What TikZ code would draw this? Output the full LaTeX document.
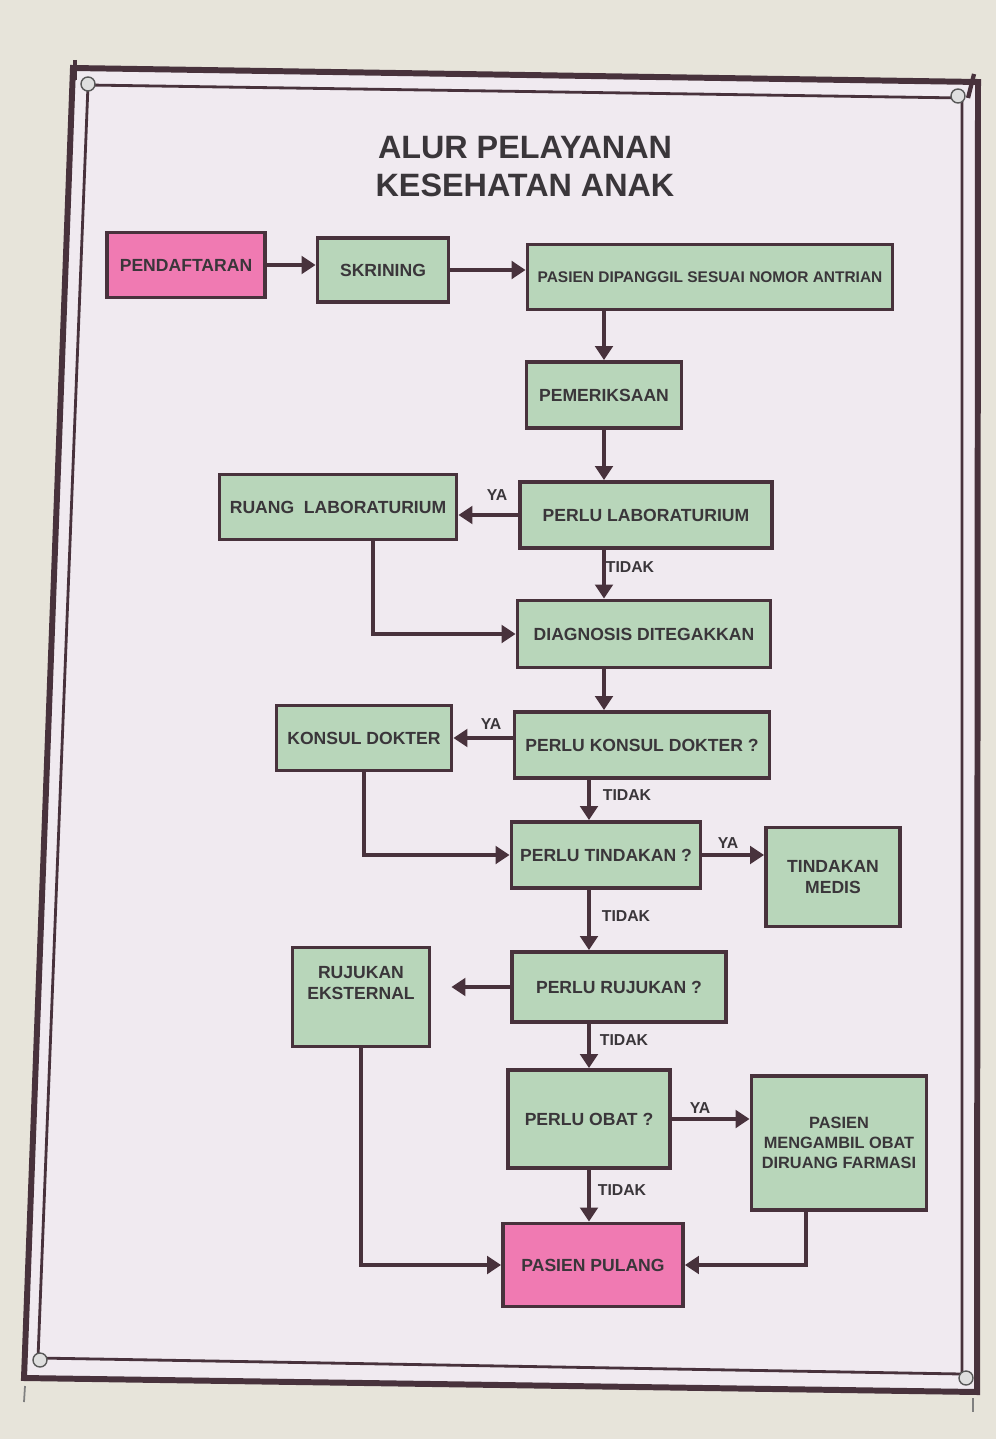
\documentclass[tikz,border=0pt]{standalone}
\usepackage{fontspec}
\setmainfont{Liberation Sans}
\usetikzlibrary{arrows.meta, positioning, calc}
\definecolor{alur_frame}{RGB}{72, 50, 60}
\definecolor{alur_green}{RGB}{184, 214, 186}
\definecolor{alur_pink}{RGB}{240, 122, 178}
\definecolor{alur_text}{RGB}{58, 54, 58}
\definecolor{alur_wall}{RGB}{231, 228, 218}
\definecolor{alur_cloth}{RGB}{240, 234, 240}

\begin{document}
\begin{tikzpicture}[x=0.02cm, y=-0.02cm,
    box/.style={draw=alur_frame, line width=2.2pt, fill=alur_green, text=alur_text,
                align=center, inner sep=2pt, font=\fontsize{10}{12}\selectfont\bfseries},
    pinkbox/.style={box, fill=alur_pink},
    arr/.style={draw=alur_frame, line width=2.2pt, -{Triangle[length=8pt, width=10pt]}},
    lbl/.style={text=alur_text, font=\fontsize{9}{10}\selectfont\bfseries},
    grommet/.style={draw=gray!70!black, fill=gray!25, line width=0.8pt}]
  % wall and banner
  \fill[alur_wall] (0,0) rectangle (996,1439);
  \fill[alur_cloth] (73,68) -- (978,82) -- (977,1392) -- (24,1378) -- cycle;
  \draw[alur_frame, line width=3.4pt, line join=miter] (73,68) -- (978,82) -- (977,1392) -- (24,1378) -- cycle;
  \draw[alur_frame, line width=1.6pt] (88,85) -- (962,98) -- (962,1374) -- (38,1358) -- cycle;
  \draw[alur_frame, line width=2pt] (75,60) -- (75,80);
  \draw[alur_frame, line width=2.4pt] (974,74) -- (968,98);
  \draw[gray, line width=1pt] (25,1386) -- (24,1402);
  \draw[gray, line width=1pt] (973,1398) -- (973,1412);
  \foreach \gx/\gy in {88/84, 958/96, 40/1360, 966/1378}
    \draw[grommet] (\gx,\gy) circle (7);

  % title
  \node[text=alur_text, font=\fontsize{18.4}{22}\selectfont\bfseries] (judul1) at (525,148) {ALUR PELAYANAN};
  \node[text=alur_text, font=\fontsize{18.4}{22}\selectfont\bfseries] (judul2) at (525,185) {KESEHATAN ANAK};

  % boxes
  \node[pinkbox, minimum width=3.16cm, minimum height=1.30cm] (daftar) at (186,265) {PENDAFTARAN};
  \node[box, minimum width=2.62cm, minimum height=1.28cm] (skrining) at (383,270) {SKRINING};
  \node[box, minimum width=7.30cm, minimum height=1.30cm,
        font=\fontsize{8.8}{10}\selectfont\bfseries] (panggil) at (710,277) {PASIEN DIPANGGIL SESUAI NOMOR ANTRIAN};
  \node[box, minimum width=3.10cm, minimum height=1.32cm] (periksa) at (604,395) {PEMERIKSAAN};
  \node[box, minimum width=5.04cm, minimum height=1.32cm] (plab) at (646,515) {PERLU LABORATURIUM};
  \node[box, minimum width=4.74cm, minimum height=1.30cm] (rlab) at (338,507) {RUANG~ LABORATURIUM};
  \node[box, minimum width=5.06cm, minimum height=1.34cm] (diag) at (644,634) {DIAGNOSIS DITEGAKKAN};
  \node[box, minimum width=3.50cm, minimum height=1.30cm] (konsul) at (364,738) {KONSUL DOKTER};
  \node[box, minimum width=5.10cm, minimum height=1.32cm] (pkonsul) at (642,745) {PERLU KONSUL DOKTER ?};
  \node[box, minimum width=3.78cm, minimum height=1.32cm] (ptindak) at (606,855) {PERLU TINDAKAN ?};
  \node[box, minimum width=2.68cm, minimum height=1.98cm] (medis) at (833,877) {TINDAKAN\\MEDIS};
  \node[box, minimum width=4.28cm, minimum height=1.40cm] (prujuk) at (619,987) {PERLU RUJUKAN ?};
  \node[box, minimum width=2.74cm, minimum height=1.98cm] (rujuk) at (361,997) {RUJUKAN\\EKSTERNAL\\[4pt]};
  \node[box, minimum width=3.24cm, minimum height=1.96cm] (obat) at (589,1119) {PERLU OBAT ?};
  \node[box, minimum width=3.50cm, minimum height=2.68cm,
        font=\fontsize{9.3}{11.5}\selectfont\bfseries] (farmasi) at (839,1143) {PASIEN\\MENGAMBIL OBAT\\DIRUANG FARMASI};
  \node[pinkbox, minimum width=3.60cm, minimum height=1.66cm] (pulang) at (593,1265) {PASIEN PULANG};

  % connectors
  \draw[arr] (daftar.east) -- (daftar.east -| skrining.west);
  \draw[arr] (skrining.east) -- (skrining.east -| panggil.west);
  \draw[arr] (periksa.north |- panggil.south) -- (periksa.north);
  \draw[arr] (periksa.south) -- (periksa.south |- plab.north);
  \draw[arr] (plab.west) -- (plab.west -| rlab.east);
  \draw[arr] (plab.south -| periksa) -- (diag.north -| periksa);
  \draw[arr] ([xshift=0.7cm]rlab.south) |- (diag.west);
  \draw[arr] (diag.south -| periksa) -- (pkonsul.north -| periksa);
  \draw[arr] (pkonsul.west |- konsul) -- (konsul.east);
  \draw[arr] (pkonsul.south -| obat) -- (ptindak.north -| obat);
  \draw[arr] (konsul.south) |- (ptindak.west);
  \draw[arr] (ptindak.east) -- (ptindak.east -| medis.west);
  \draw[arr] (ptindak.south -| obat) -- (prujuk.north -| obat);
  \draw[arr, shorten >=0.4cm] (prujuk.west) -- (prujuk.west -| rujuk.east);
  \draw[arr] (prujuk.south -| obat) -- (obat.north);
  \draw[arr] (obat.east) -- (obat.east -| farmasi.west);
  \draw[arr] (obat.south) -- (obat.south |- pulang.north);
  \draw[arr] (rujuk.south) |- (pulang.west);
  \draw[arr] ([xshift=-0.66cm]farmasi.south) |- (pulang.east);

  % labels
  \node[lbl] (ya1) at (497,495) {YA};
  \node[lbl] (tidak1) at (630,567) {TIDAK};
  \node[lbl] (ya2) at (491,724) {YA};
  \node[lbl] (tidak2) at (627,795) {TIDAK};
  \node[lbl] (ya3) at (728,843) {YA};
  \node[lbl] (tidak3) at (626,916) {TIDAK};
  \node[lbl] (tidak4) at (624,1040) {TIDAK};
  \node[lbl] (ya4) at (700,1108) {YA};
  \node[lbl] (tidak5) at (622,1190) {TIDAK};
\end{tikzpicture}
\end{document}
